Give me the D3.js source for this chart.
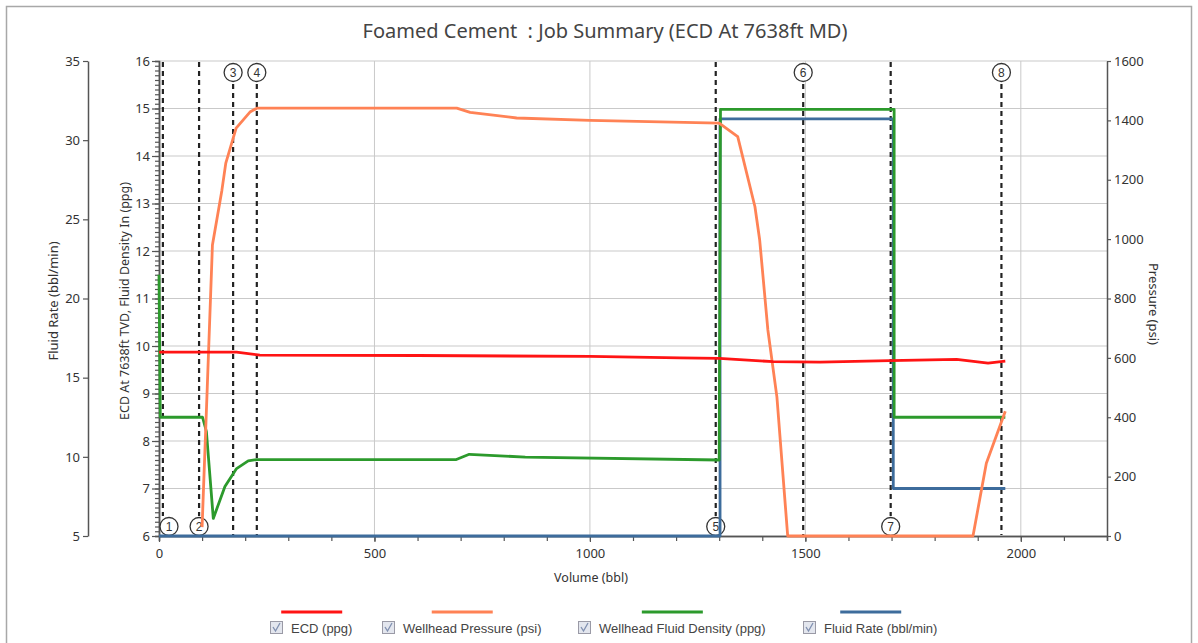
<!DOCTYPE html>
<html>
<head>
<meta charset="utf-8">
<script src="https://cdn.jsdelivr.net/npm/d3@7"></script>
<style>
  body { margin: 0; background: #fff; }
  text { font-family: "Liberation Sans", Arial, sans-serif; fill: #333; }
</style>
</head>
<body>
<svg id="chart" width="1198" height="643"></svg>
<script>
// ---- data ----
var ecdVol = [0, 180, 234, 600, 1000, 1209, 1300, 1425, 1534, 1696, 1851, 1924, 1964]
var ecdVal = [9.87, 9.87, 9.81, 9.80, 9.78, 9.75, 9.74, 9.67, 9.66, 9.69, 9.72, 9.64, 9.68]

var pressVol = [100, 112, 124, 146, 155, 179, 211, 227, 691, 722, 830, 1000, 1300, 1343, 1383, 1394, 1413, 1434, 1459, 1889, 1920, 1964]
var pressVal = [30, 500, 980, 1165, 1256, 1374, 1428, 1441, 1441, 1427, 1408, 1400, 1391, 1345, 1109, 997, 694, 468, 0, 0, 245, 420]

var densVol = [0, 3, 101, 110, 126, 153, 180, 207, 227, 690, 720, 850, 1300, 1303, 1706, 1706, 1964]
var densVal = [11.5, 8.5, 8.5, 8.2, 6.37, 7.04, 7.42, 7.58, 7.61, 7.61, 7.72, 7.66, 7.6, 14.98, 14.98, 8.5, 8.5]

var rateVol = [0, 1302, 1302, 1704, 1704, 1964]
var rateVal = [5, 5, 31.35, 31.35, 8, 8]

var eventIds = [1, 2, 3, 4, 5, 6, 7, 8]
var eventVol = [9, 93, 172, 227, 1292, 1495, 1698, 1955]
var eventSide = ["bottom", "bottom", "top", "top", "bottom", "top", "bottom", "top"]

var volTicks = [0, 500, 1000, 1500, 2000]
var ppgTicks = [6, 7, 8, 9, 10, 11, 12, 13, 14, 15, 16]
var rateTicks = [5, 10, 15, 20, 25, 30, 35]
var psiTicks = [0, 200, 400, 600, 800, 1000, 1200, 1400, 1600]

var seriesNames = ["ECD (ppg)", "Wellhead Pressure (psi)", "Wellhead Fluid Density (ppg)", "Fluid Rate (bbl/min)"]
var seriesColors = ["#ff1414", "#ff8255", "#2c9a2c", "#3d6c9c"]

// ---- scales ----
var svg = d3.select("#chart")
var x = d3.scaleLinear().domain([0, 2200]).range([159, 1107])
var yPpg = d3.scaleLinear().domain([6, 16]).range([536, 61])
var yRate = d3.scaleLinear().domain([5, 35]).range([536, 61])
var yPsi = d3.scaleLinear().domain([0, 1600]).range([536, 61])
var fmt = d3.format("d")

// frame
svg.append("rect").attr("x", 6.5).attr("y", 6.5).attr("width", 1185).attr("height", 660)
    .attr("fill", "none").attr("stroke", "#a8a8a8").attr("stroke-width", 1.5)

// title
svg.append("text").attr("x", 605).attr("y", 38).attr("text-anchor", "middle")
    .style("font-family", "'Noto Sans', sans-serif").style("font-size", "20px").style("fill", "#444")
    .style("white-space", "pre")
    .text("Foamed Cement  : Job Summary (ECD At 7638ft MD)")

// grid
var grid = svg.append("g")
grid.selectAll("line.h").data(ppgTicks.slice(1)).enter().append("line")
    .attr("x1", x(0)).attr("x2", x(2200))
    .attr("y1", d => yPpg(d)).attr("y2", d => yPpg(d))
    .attr("stroke", "#c9c9c9").attr("stroke-width", 1)
grid.selectAll("line.v").data(volTicks.slice(1)).enter().append("line")
    .attr("y1", yPpg(16)).attr("y2", yPpg(6))
    .attr("x1", d => x(d)).attr("x2", d => x(d))
    .attr("stroke", "#c9c9c9").attr("stroke-width", 1)

function styleAxis(g) {
    g.selectAll("path.domain").attr("stroke", "#555").attr("stroke-width", 1.5)
    g.selectAll(".tick line").attr("stroke", "#555").attr("stroke-width", 1.2)
    g.selectAll(".tick text").style("font-size", "13px").style("fill", "#333")
        .style("font-family", "'Noto Sans', sans-serif")
}

// bottom axis, minor then major
svg.append("g").attr("transform", "translate(0,536)")
    .call(d3.axisBottom(x).tickValues(d3.range(0, 2201, 100)).tickSize(5).tickFormat(""))
    .call(styleAxis)
svg.append("g").attr("transform", "translate(0,536)")
    .call(d3.axisBottom(x).tickValues(volTicks).tickFormat(fmt).tickSize(6).tickPadding(7).tickSizeOuter(0))
    .call(styleAxis)
svg.append("text").attr("x", 591).attr("y", 582).attr("text-anchor", "middle")
    .style("font-family", "'Noto Sans', sans-serif").style("font-size", "12.5px")
    .text("Volume (bbl)")

// ppg axis
svg.append("g").attr("transform", "translate(159,0)")
    .call(d3.axisLeft(yPpg).tickValues(d3.range(6, 16.01, 0.1)).tickSize(4).tickFormat(""))
    .call(styleAxis)
svg.append("g").attr("transform", "translate(159,0)")
    .call(d3.axisLeft(yPpg).tickValues(ppgTicks).tickFormat(fmt).tickSize(7).tickPadding(2).tickSizeOuter(0))
    .call(styleAxis)
svg.append("text").attr("transform", "translate(129,301) rotate(-90)").attr("text-anchor", "middle")
    .style("font-family", "'Noto Sans', sans-serif").style("font-size", "12.5px")
    .text("ECD At 7638ft TVD, Fluid Density In (ppg)")

// rate axis
svg.append("g").attr("transform", "translate(88,0)")
    .call(d3.axisLeft(yRate).tickValues(rateTicks).tickFormat(fmt).tickSize(5).tickPadding(3).tickSizeOuter(0))
    .call(styleAxis)
svg.append("text").attr("transform", "translate(58,301) rotate(-90)").attr("text-anchor", "middle")
    .style("font-family", "'Noto Sans', sans-serif").style("font-size", "13px")
    .text("Fluid Rate (bbl/min)")

// pressure axis
svg.append("g").attr("transform", "translate(1107,0)")
    .call(d3.axisRight(yPsi).tickValues(psiTicks).tickFormat(fmt).tickSize(4).tickPadding(3).tickSizeOuter(0))
    .call(styleAxis)
svg.append("text").attr("transform", "translate(1149,304) rotate(90)").attr("text-anchor", "middle")
    .style("font-family", "'Noto Sans', sans-serif").style("font-size", "13px")
    .text("Pressure (psi)")

// event markers
var ev = svg.append("g")
eventIds.forEach(function (id, i) {
    var ex = x(eventVol[i])
    var top = eventSide[i] == "top"
    ev.append("line")
        .attr("x1", ex).attr("x2", ex)
        .attr("y1", top ? 84 : 62).attr("y2", top ? 535 : 516)
        .attr("stroke", "#222").attr("stroke-width", 2.2).attr("stroke-dasharray", "5,4")
    var cx = Math.max(ex, x(0) + 10)
    var cy = top ? 72.5 : 526.5
    ev.append("circle").attr("cx", cx).attr("cy", cy).attr("r", 9)
        .attr("fill", "#fff").attr("stroke", "#333").attr("stroke-width", 1.3)
    ev.append("text").attr("x", cx).attr("y", cy + 4.5).attr("text-anchor", "middle")
        .style("font-size", "12px").style("fill", "#333").text(id)
})

// series
function zip(a, b) { return a.map((v, i) => [v, b[i]]) }
var lines = [
    { pts: zip(ecdVol, ecdVal), y: yPpg },
    { pts: zip(pressVol, pressVal), y: yPsi },
    { pts: zip(densVol, densVal), y: yPpg },
    { pts: zip(rateVol, rateVal), y: yRate }
]
var drawOrder = [3, 2, 1, 0]
drawOrder.forEach(function (k) {
    var s = lines[k]
    svg.append("path")
        .attr("d", d3.line().x(d => x(d[0])).y(d => s.y(d[1]))(s.pts))
        .attr("fill", "none").attr("stroke", seriesColors[k])
        .attr("stroke-width", 2.8).attr("stroke-linejoin", "round")
})

// legend
var legendX = [270, 382, 578, 803]
var lg = svg.append("g")
seriesNames.forEach(function (name, i) {
    var g = lg.append("g").attr("transform", "translate(" + legendX[i] + ",0)")
    var t = g.append("text").attr("x", 21).attr("y", 633)
        .style("font-size", "13px").style("fill", "#444").text(name)
    var w = 21 + t.node().getComputedTextLength()
    g.append("line").attr("x1", w / 2 - 30).attr("x2", w / 2 + 31)
        .attr("y1", 612).attr("y2", 612)
        .attr("stroke", seriesColors[i]).attr("stroke-width", 3)
    g.append("rect").attr("x", 0.5).attr("y", 621.5).attr("width", 12).attr("height", 12)
        .attr("fill", "#e3e6ee").attr("stroke", "#9a9aa6")
    g.append("path").attr("d", "M3,627 L5.5,631 L10,623")
        .attr("fill", "none").attr("stroke", "#8090b0").attr("stroke-width", 1.3)
})
</script>
</body>
</html>
